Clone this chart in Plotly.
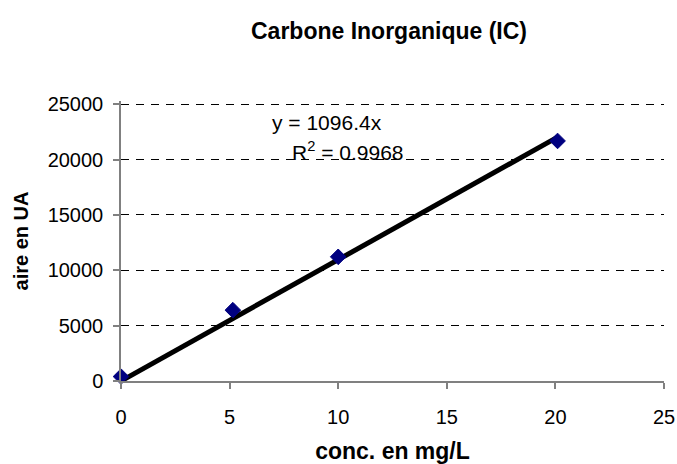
import plotly.graph_objects as go

# Calibration data: inorganic carbon standards
conc_mg_l = [0, 5.15, 10, 20.1]
aire_ua = [400, 6400, 11220, 21690]

# Linear trendline through the origin (from the fitted equation)
slope = 1096.4
r_squared = 0.9968
trend_x = [0, 20.1]
trend_y = [slope * x for x in trend_x]

x_ticks = [0, 5, 10, 15, 20, 25]
y_ticks = [0, 5000, 10000, 15000, 20000, 25000]

font_family = "Liberation Sans, Arial, sans-serif"

fig = go.Figure()

fig.add_trace(go.Scatter(
    x=trend_x, y=trend_y, mode="lines",
    line=dict(color="black", width=5),
    hoverinfo="skip", showlegend=False, cliponaxis=False,
))

fig.add_trace(go.Scatter(
    x=conc_mg_l, y=aire_ua, mode="markers",
    marker=dict(symbol="diamond", size=12, color="#000080",
                line=dict(color="#000080", width=1)),
    showlegend=False, cliponaxis=False,
))

fig.add_annotation(x=9.5, y=23400, text=f"y = {slope}x", showarrow=False,
                   font=dict(size=21, color="black", family=font_family),
                   xanchor="center", yanchor="middle")
fig.add_annotation(x=10.43, y=20800, text=f"R<sup>2</sup> = {r_squared}", showarrow=False,
                   font=dict(size=21, color="black", family=font_family),
                   xanchor="center", yanchor="middle")

fig.update_layout(
    width=677, height=464,
    margin=dict(l=121, r=13, t=101, b=83, autoexpand=False),
    paper_bgcolor="white", plot_bgcolor="white",
    font=dict(family=font_family, color="black", size=20),
    title=dict(text="<b>Carbone Inorganique (IC)</b>",
               font=dict(size=23, family=font_family, color="black"),
               x=389 / 677, xref="container", xanchor="center",
               y=1 - 31 / 464, yref="container", yanchor="middle"),
    xaxis=dict(
        range=[0, 25], tickvals=x_ticks, ticktext=[str(v) for v in x_ticks],
        showgrid=False, zeroline=False, automargin=False,
        showline=True, linecolor="#808080", linewidth=1.5,
        ticks="outside", ticklen=6, tickcolor="#808080", tickwidth=1.5,
        tickfont=dict(size=20), ticklabelstandoff=11,
        title=dict(text="<b>conc. en mg/L</b>", font=dict(size=23), standoff=26),
    ),
    yaxis=dict(
        range=[0, 25300], tickvals=y_ticks, ticktext=[str(v) for v in y_ticks],
        showgrid=True, gridcolor="black", gridwidth=1, griddash="8px,7px",
        zeroline=False, automargin=False,
        showline=True, linecolor="#808080", linewidth=1.5,
        ticks="outside", ticklen=6, tickcolor="#808080", tickwidth=1.5,
        tickfont=dict(size=20), ticklabelstandoff=6,
        title=dict(text="<b>aire en UA</b>", font=dict(size=20), standoff=14),
    ),
)

fig.write_html("out.html")
